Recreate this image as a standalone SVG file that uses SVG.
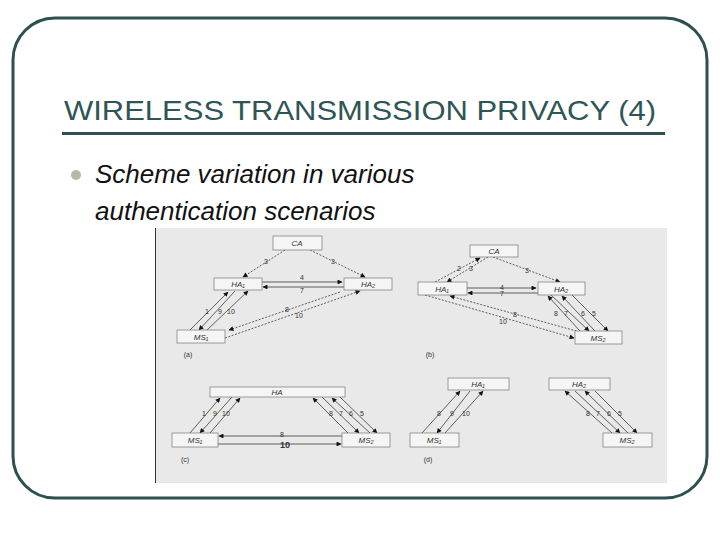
<svg xmlns="http://www.w3.org/2000/svg" width="720" height="540" viewBox="0 0 720 540">
<defs>
<marker id="ah" viewBox="0 0 10 10" refX="9" refY="5" markerWidth="9" markerHeight="7" orient="auto"><path d="M0,0L10,5L0,10z" fill="#111"/></marker>
</defs>
<style>
.t{font-family:"Liberation Sans",Arial,sans-serif}
.bx{fill:#f5f5f5;stroke:#777;stroke-width:0.7}
.bl{font-family:"Liberation Sans",Arial,sans-serif;font-size:8px;font-style:italic;fill:#333;text-anchor:middle}
.n{font-family:"Liberation Sans",Arial,sans-serif;font-size:7px;fill:#333;text-anchor:middle}
.s{stroke:#222;stroke-width:0.7;fill:none;marker-end:url(#ah)}
.d{stroke:#222;stroke-width:0.7;fill:none;stroke-dasharray:2 1.5;marker-end:url(#ah)}
</style>
<rect width="720" height="540" fill="#fff"/>
<rect x="13" y="18" width="694" height="480" rx="42" fill="#fff" stroke="#2f5050" stroke-width="3"/>
<text class="t" x="64" y="120" font-size="28" fill="#2f5656" textLength="592" lengthAdjust="spacingAndGlyphs">WIRELESS TRANSMISSION PRIVACY (4)</text>
<rect x="62" y="132" width="603" height="3" fill="#2f5050"/>
<circle cx="76" cy="175" r="5" fill="#b8b8a8"/>
<text class="t" x="95" y="183" font-size="26" font-style="italic" fill="#111">Scheme variation in various</text>
<text class="t" x="95" y="220" font-size="26" font-style="italic" fill="#111">authentication scenarios</text>
<rect x="155" y="228" width="512" height="255" fill="#e9e9e9"/>
<line x1="155.5" y1="228" x2="155.5" y2="483" stroke="#333" stroke-width="1"/>
<g id="connectors">
<path class="d" d="M285,250L243,277"/><path class="d" d="M310,250L365,277"/>
<path class="s" d="M262,282L342,282"/><path class="s" d="M344,287L263,287"/>
<path class="s" d="M190,330L228,292"/><path class="s" d="M235,291L199,330"/><path class="s" d="M207,330L248,291"/>
<path class="d" d="M340,292L229,330"/><path class="d" d="M225,338L360,291"/>
<path class="d" d="M435,282L480,258"/><path class="d" d="M488,257L447,282"/><path class="d" d="M493,257L560,282"/>
<path class="s" d="M467,288L536,288"/><path class="s" d="M538,293L468,293"/>
<path class="d" d="M425,295L574,338"/><path class="d" d="M580,332L450,296"/>
<path class="s" d="M580,331L548,296"/><path class="s" d="M551,295L589,331"/><path class="s" d="M595,331L562,296"/><path class="s" d="M572,295L608,331"/>
<path class="s" d="M190,433L220,398"/><path class="s" d="M232,397L200,433"/><path class="s" d="M210,433L240,398"/>
<path class="s" d="M348,433L313,398"/><path class="s" d="M322,397L359,433"/><path class="s" d="M370,433L332,398"/><path class="s" d="M340,397L377,433"/>
<path class="s" d="M342,436L219,436"/><path class="s" d="M218,444L341,444"/>
<path class="s" d="M422,433L460,391"/><path class="s" d="M470,391L437,433"/><path class="s" d="M445,433L483,391"/>
<path class="s" d="M612,433L565,391"/><path class="s" d="M575,391L620,433"/><path class="s" d="M628,433L585,391"/><path class="s" d="M595,391L637,433"/>
</g>
<g class="n">
<text x="266" y="264">3</text><text x="333" y="264">3</text><text x="302" y="280">4</text><text x="302" y="293">7</text>
<text x="207" y="314">1</text><text x="220" y="314">9</text><text x="231" y="314">10</text>
<text x="287" y="312">8</text><text x="299" y="318">10</text>
<text x="459" y="271">2</text><text x="471" y="271">3</text><text x="527" y="273">3</text><text x="502" y="290">4</text><text x="502" y="296">7</text>
<text x="515" y="317">8</text><text x="503" y="324">10</text>
<text x="556" y="316">8</text><text x="566" y="316">7</text><text x="583" y="316">6</text><text x="594" y="316">5</text>
<text x="204" y="416">1</text><text x="215" y="416">9</text><text x="226" y="416">10</text>
<text x="331" y="416">8</text><text x="341" y="416">7</text><text x="351" y="416">6</text><text x="362" y="416">5</text>
<text x="282" y="437">8</text><text x="285" y="448" font-size="9" font-weight="bold">10</text>
<text x="439" y="416">8</text><text x="452" y="416">9</text><text x="466" y="416">10</text>
<text x="588" y="416">8</text><text x="598" y="416">7</text><text x="609" y="416">6</text><text x="620" y="416">5</text>
<text x="188" y="357">(a)</text><text x="430" y="357">(b)</text><text x="185" y="462">(c)</text><text x="428" y="462">(d)</text>
</g>
<g id="a-ca"><rect class="bx" x="273" y="236" width="49" height="14"/><text class="bl" x="297" y="246">CA</text></g>
<g id="a-ha1"><rect class="bx" x="214" y="278" width="48" height="12"/><text class="bl" x="238" y="287">HA₁</text></g>
<g id="a-ha2"><rect class="bx" x="344" y="278" width="48" height="12"/><text class="bl" x="368" y="287">HA₂</text></g>
<g id="a-ms1"><rect class="bx" x="177" y="330" width="48" height="13"/><text class="bl" x="201" y="340">MS₁</text></g>
<g id="b-ca"><rect class="bx" x="470" y="245" width="48" height="12"/><text class="bl" x="494" y="254">CA</text></g>
<g id="b-ha1"><rect class="bx" x="418" y="282" width="49" height="13"/><text class="bl" x="442" y="292">HA₁</text></g>
<g id="b-ha2"><rect class="bx" x="538" y="282" width="47" height="13"/><text class="bl" x="561" y="292">HA₂</text></g>
<g id="b-ms2"><rect class="bx" x="575" y="331" width="47" height="13"/><text class="bl" x="598" y="341">MS₂</text></g>
<g id="c-ha"><rect class="bx" x="210" y="387" width="135" height="10"/><text class="bl" x="277" y="395">HA</text></g>
<g id="c-ms1"><rect class="bx" x="172" y="433" width="46" height="14"/><text class="bl" x="195" y="443">MS₁</text></g>
<g id="c-ms2"><rect class="bx" x="342" y="433" width="48" height="14"/><text class="bl" x="366" y="443">MS₂</text></g>
<g id="d-ha1"><rect class="bx" x="448" y="378" width="61" height="12"/><text class="bl" x="478" y="387">HA₁</text></g>
<g id="d-ha2"><rect class="bx" x="549" y="378" width="61" height="12"/><text class="bl" x="579" y="387">HA₂</text></g>
<g id="d-ms1"><rect class="bx" x="410" y="433" width="49" height="14"/><text class="bl" x="434" y="443">MS₁</text></g>
<g id="d-ms2"><rect class="bx" x="603" y="433" width="49" height="14"/><text class="bl" x="627" y="443">MS₂</text></g>
</svg>
